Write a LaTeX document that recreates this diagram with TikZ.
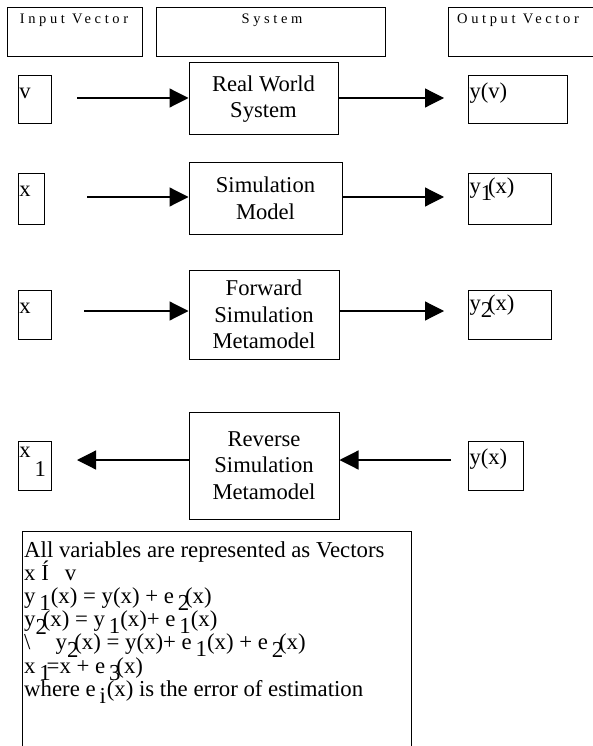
\documentclass[tikz,border=0pt]{standalone}
\usepackage{fontspec}
\setmainfont{Liberation Serif}
\newfontfamily\spacedfont[LetterSpace=25]{Liberation Serif}
\usetikzlibrary{arrows.meta, positioning}
\newcommand{\lo}[1]{\makebox[0.32em][l]{\raisebox{-0.33em}{#1}}}
\newcommand{\dn}[1]{\raisebox{-7pt}{#1}}
\newcommand{\notefont}{\fontsize{22.8}{23.2}\selectfont\lineskiplimit=-30pt\relax}

\begin{document}
\begin{tikzpicture}[
  x=1pt, y=-1pt,
  every node/.style={font=\fontsize{22.6}{26.5}\selectfont},
  head/.style={draw, line width=1pt, anchor=north west, inner sep=0pt},
  headtext/.style={font=\spacedfont\fontsize{14.5}{16}\selectfont, inner sep=0pt},
  sysbox/.style={draw, line width=1pt, align=center, inner sep=0pt},
  vecbox/.style={draw, line width=1pt, anchor=north west, inner xsep=1pt,
    inner ysep=0pt, align=left, text height=23pt},
  arr/.style={line width=1.2pt, -{Triangle[length=19pt, width=19pt]}}
]
\useasboundingbox (0,0) rectangle (592,746);

% Header
\node[head, minimum width=135pt, minimum height=49pt] (inhead) at (7,7) {};
\node[head, minimum width=229pt, minimum height=49pt] (syshead) at (156,7) {};
\node[head, minimum width=160pt, minimum height=49pt] (outhead) at (448,7) {};
\node[headtext, anchor=base] (intxt) at (74,24) {Input Vector};
\node[headtext, anchor=base] (systxt) at (272,24) {System};
\node[headtext, anchor=base west] (outtxt) at (457,24) {Output Vector};

% Systems
\node[sysbox, minimum width=149pt, minimum height=72pt] (rw) at (263.5,99) {Real World\\System};
\node[sysbox, minimum width=153pt, minimum height=71pt] (sim) at (265.5,198.5) {Simulation\\Model};
\node[sysbox, minimum width=150pt, minimum height=89pt] (fwd) at (264,314.5) {Forward\\Simulation\\Metamodel};
\node[sysbox, minimum width=150pt, minimum height=107pt] (rev) at (264,465.5) {Reverse\\Simulation\\Metamodel};

% Input vectors
\node[vecbox, text width=31pt, text depth=25pt] (v) at (18,75) {v};
\node[vecbox, text width=24pt, text depth=28pt] (x) at (18,173) {x};
\node[vecbox, text width=31pt, text depth=26pt] (xf) at (18,290) {x};
\node[vecbox, text width=31pt, text height=16pt, text depth=33pt] (xr) at (18,441) {x\,\raisebox{-19pt}{1}};

% Output vectors
\node[vecbox, text width=97pt, text depth=25pt] (yv) at (468,75) {y(v)};
\node[vecbox, text width=81pt, text height=20pt, text depth=31pt] (ysim) at (468,173) {y\lo{1}(x)};
\node[vecbox, text width=81pt, text height=20pt, text depth=29pt] (yfwd) at (468,290) {y\lo{2}(x)};
\node[vecbox, text width=53pt, text depth=26pt] (yx) at (468,441) {y(x)};

% Arrows
\coordinate (a1) at (77,98);
\coordinate (b1) at (444,98);
\coordinate (a2) at (87,197);
\coordinate (b2) at (444,197);
\coordinate (a3) at (84,311);
\coordinate (b3) at (444,311);
\coordinate (a4) at (451,460);
\coordinate (b4) at (77,460);
\draw[arr] (a1) -- (a1 -| rw.west);
\draw[arr] (b1 -| rw.east) -- (b1);
\draw[arr] (a2) -- (a2 -| sim.west);
\draw[arr] (b2 -| sim.east) -- (b2);
\draw[arr] (a3) -- (a3 -| fwd.west);
\draw[arr] (b3 -| fwd.east) -- (b3);
\draw[arr] (a4) -- (a4 -| rev.east);
\draw[arr] (b4 -| rev.west) -- (b4);

% Notes
\node[head, minimum width=389pt, minimum height=229pt] (notes) at (22,531) {};
\node[anchor=north west, align=left, inner sep=0pt, font=\notefont] (notetxt)
  at ([shift={(2,10)}]notes.north west) {%
All variables are represented as Vectors\\
x Í\hspace{0.7em}v\\
y\,\dn{1}(x) = y(x) + e\,\lo{2}(x)\\
y\lo{2}(x) = y\,\dn{1}(x)+ e\,\dn{1}(x)\\
\textbackslash\hspace{1.1em}y\lo{2}(x) = y(x)+ e\,\dn{1}(x) + e\,\lo{2}(x)\\
x\,\lo{1}=x + e\,\lo{3}(x)\\
where e\,\lo{i}(x) is the error of estimation};

\end{tikzpicture}
\end{document}
